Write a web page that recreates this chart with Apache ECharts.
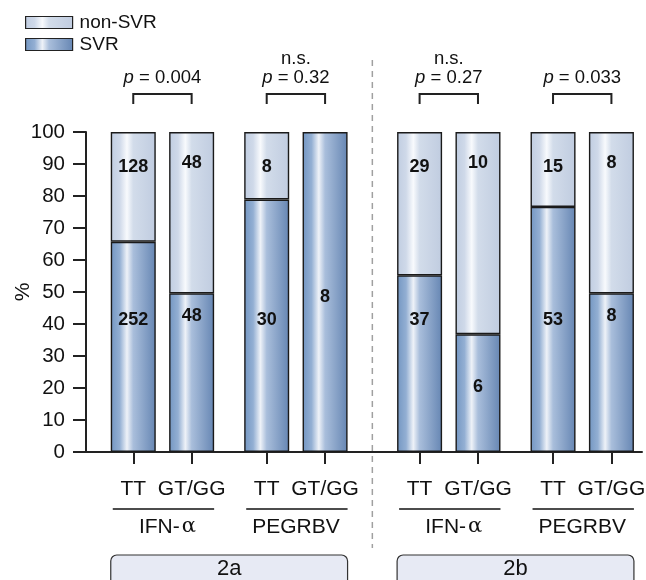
<!DOCTYPE html>
<html>
<head>
<meta charset="utf-8">
<script src="https://cdn.jsdelivr.net/npm/echarts@6/dist/echarts.min.js"></script>
<style>
html,body{margin:0;padding:0;background:#fff;}
#chart{width:646px;height:580px;}
</style>
</head>
<body>
<div id="chart"></div>
<script>
// ---- data ----
const categories = ['TT', 'GT/GG', 'TT', 'GT/GG', 'TT', 'GT/GG', 'TT', 'GT/GG'];
const svrPercent = [65.7, 49.6, 78.9, 100, 55.2, 36.8, 76.6, 49.6];
const nonSvrPercent = [34.3, 50.4, 21.1, 0, 44.8, 63.2, 23.4, 50.4];
const svrCounts = ['252', '48', '30', '8', '37', '6', '53', '8'];
const nonSvrCounts = ['128', '48', '8', '', '29', '10', '15', '8'];
const therapies = ['IFN-α', 'PEGRBV', 'IFN-α', 'PEGRBV'];
const genotypes = ['2a', '2b'];
const pValues = ['0.004', '0.32', '0.27', '0.033'];
const significance = ['', 'n.s.', 'n.s.', ''];
const yTicks = [0, 10, 20, 30, 40, 50, 60, 70, 80, 90, 100];

// ---- layout (slot gaps on a fine category axis) ----
const leadSlots = 17, pairGap = 21, therapyGap = 27, genotypeGap = 34, trailSlots = 11;
const slotIdx = [];
{
  let p = leadSlots;
  for (let i = 0; i < categories.length; i++) {
    slotIdx.push(p);
    if (i % 2 === 0) p += pairGap;
    else if (i % 4 === 1) p += therapyGap;
    else p += genotypeGap;
  }
}
const totalSlots = slotIdx[slotIdx.length - 1] + trailSlots + 1;
const axisCats = new Array(totalSlots).fill('');
const svrData = new Array(totalSlots).fill('-');
const nonData = new Array(totalSlots).fill('-');
slotIdx.forEach((s, i) => {
  axisCats[s] = categories[i];
  const tt = i % 2 === 0;
  const svrMid = svrPercent[i] >= 99 || svrPercent[i] < 40;
  svrData[s] = {
    value: svrPercent[i],
    label: svrMid
      ? { show: true, position: 'inside', formatter: svrCounts[i], offset: [0, svrPercent[i] >= 99 ? 5 : -6] }
      : { show: true, position: 'insideBottom', distance: tt ? 123 : 127, formatter: svrCounts[i] }
  };
  nonData[s] = {
    value: nonSvrPercent[i],
    itemStyle: nonSvrPercent[i] === 0 ? { borderWidth: 0, opacity: 0 } : undefined,
    label: { show: nonSvrCounts[i] !== '', position: 'insideTop', distance: tt ? 26 : 22, formatter: nonSvrCounts[i] }
  };
});

const FONT = '"Liberation Sans", Arial, sans-serif';
const grad = (stops) => ({
  type: 'linear', x: 0, y: 0, x2: 1, y2: 0,
  colorStops: stops.map(s => ({ offset: s[0], color: s[1] }))
});
const svrColor = grad([[0, '#7396c2'], [0.2, '#93afd3'], [0.36, '#eef2f8'], [0.5, '#a9bedb'], [1, '#6686b3']]);
const nonColor = grad([[0, '#c0cde1'], [0.2, '#cfd9e9'], [0.36, '#f8fafd'], [0.5, '#d2dcea'], [1, '#c0cce0']]);

const labelStyle = { fontFamily: FONT, fontSize: 18, fontWeight: 'bold', color: '#111' };

const chart = echarts.init(document.getElementById('chart'), null, { renderer: 'canvas' });
chart.setOption({
  animation: false,
  backgroundColor: '#fff',
  textStyle: { fontFamily: FONT },
  legend: {
    data: ['non-SVR', 'SVR'],
    orient: 'vertical',
    left: 20, top: 8,
    icon: 'rect',
    itemWidth: 47, itemHeight: 12, itemGap: 3,
    textStyle: { fontFamily: FONT, fontSize: 19, lineHeight: 19, color: '#111', padding: [0, 0, 0, 2] },
    itemStyle: { borderColor: '#222', borderWidth: 1.2 }
  },
  grid: { left: 86, right: 4, top: 132, bottom: 128, containLabel: false, outerBoundsMode: 'none' },
  xAxis: {
    type: 'category',
    data: axisCats,
    boundaryGap: false,
    axisLine: { lineStyle: { color: '#222', width: 2 } },
    axisTick: { length: 12, lineStyle: { color: '#222', width: 2 }, interval: (i, v) => v !== '' },
    axisLabel: { interval: 0, margin: 27, fontFamily: FONT, fontSize: 21, color: '#111' },
    splitLine: { show: false }
  },
  yAxis: {
    type: 'value',
    min: yTicks[0], max: yTicks[yTicks.length - 1], interval: yTicks[1] - yTicks[0],
    name: '%', nameLocation: 'middle', nameRotate: 90, nameGap: 52, nameMoveOverlap: false,
    nameTextStyle: { fontFamily: FONT, fontSize: 21, color: '#111' },
    axisLine: { show: true, lineStyle: { color: '#222', width: 2 } },
    axisTick: { show: true, length: 13, lineStyle: { color: '#222', width: 2 } },
    axisLabel: { margin: 21, fontFamily: FONT, fontSize: 20.5, color: '#111' },
    splitLine: { show: false }
  },
  series: [
    {
      name: 'SVR', type: 'bar', stack: 'a', barWidth: 45, data: svrData,
      itemStyle: { color: svrColor, borderColor: '#1a1a1a', borderWidth: 1.4 },
      label: labelStyle
    },
    {
      name: 'non-SVR', type: 'bar', stack: 'a', barWidth: 45, data: nonData,
      itemStyle: { color: nonColor, borderColor: '#1a1a1a', borderWidth: 1.4 },
      label: labelStyle
    }
  ]
});

// ---- annotations positioned from the axes ----
const xs = slotIdx.map(s => chart.convertToPixel({ xAxisIndex: 0 }, s));
const half = 22.5;
const g = [];
const txt = (x, y, text, size, extra) => ({
  type: 'text', x: x, y: y,
  style: Object.assign({ text: text, fontFamily: FONT, fontSize: size, fill: '#111', align: 'center', verticalAlign: 'middle' }, extra || {})
});
for (let k = 0; k < 4; k++) {
  const x1 = xs[2 * k], x2 = xs[2 * k + 1];
  const mid = (x1 + x2) / 2;
  g.push({ type: 'polyline', shape: { points: [[x1, 104], [x1, 94], [x2, 94], [x2, 104]] }, style: { stroke: '#222', lineWidth: 2, fill: null } });
  g.push({
    type: 'text', x: mid, y: 78,
    style: {
      text: '{i|p} = ' + pValues[k], fontFamily: FONT, fontSize: 18.5, fill: '#111', align: 'center', verticalAlign: 'middle',
      rich: { i: { fontStyle: 'italic', fontFamily: FONT, fontSize: 18.5, fill: '#111' } }
    }
  });
  if (significance[k]) g.push(txt(mid, 59, significance[k], 18.5));
  // therapy underline + name
  g.push({ type: 'line', shape: { x1: x1 - half + 2, y1: 509, x2: x2 + half, y2: 509 }, style: { stroke: '#111', lineWidth: 1.5 } });
  const isIfn = therapies[k].indexOf('α') >= 0;
  if (isIfn) {
    g.push({
      type: 'text', x: mid + 5, y: 527,
      style: {
        text: 'IFN-{a|α}', fontFamily: FONT, fontSize: 21, fill: '#111', align: 'center', verticalAlign: 'middle',
        rich: { a: { fontFamily: '"DejaVu Serif", serif', fontSize: 21, fill: '#111', padding: [0, 0, 0, 2] } }
      }
    });
  } else {
    g.push(txt(mid, 527, therapies[k], 21));
  }
}
// genotype boxes
for (let k = 0; k < 2; k++) {
  const xl = xs[4 * k] - half, xr = xs[4 * k + 3] + half;
  g.push({ type: 'rect', shape: { x: xl, y: 555, width: xr - xl, height: 40, r: 6 }, style: { fill: '#e7eaf4', stroke: '#333', lineWidth: 1.2 } });
  g.push(txt((xl + xr) / 2, 569, genotypes[k], 22));
}
// dashed separator
const sepX = (xs[3] + xs[4]) / 2;
g.push({ type: 'line', shape: { x1: sepX, y1: 60, x2: sepX, y2: 548 }, style: { stroke: '#a0a0a0', lineWidth: 1.5, lineDash: [6, 5] } });

chart.setOption({ graphic: { elements: g } });
</script>
</body>
</html>
